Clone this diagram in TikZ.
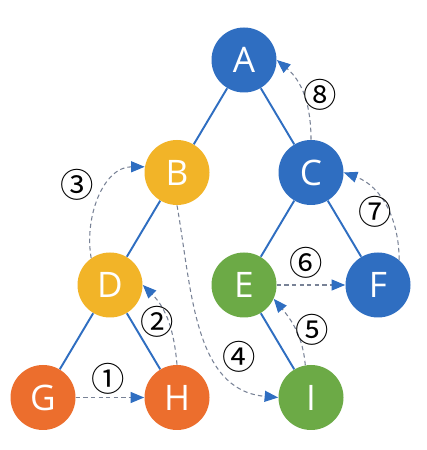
\documentclass[tikz,border=0pt]{standalone}
\usepackage{fontspec}
\setmainfont{Open Sans}
\newfontfamily\circfont{Noto Sans CJK SC}
\usetikzlibrary{
  arrows.meta
}
\definecolor{nodeblue}{RGB}{47,110,193}
\definecolor{nodegold}{RGB}{242,180,40}
\definecolor{nodeorange}{RGB}{236,110,45}
\definecolor{nodegreen}{RGB}{108,170,70}
\definecolor{walkgray}{RGB}{120,130,150}

\begin{document}
\begin{tikzpicture}[
  vertex/.style={circle, minimum size=1.3cm, inner sep=0pt, text=white,
    font=\fontsize{20}{20}\selectfont},
  edge/.style={draw=nodeblue, line width=1.1pt},
  walk/.style={draw=walkgray, dash pattern=on 2.5pt off 1.8pt, line width=.6pt,
    -{Triangle[length=.27cm,width=.22cm,color=nodeblue]}},
  visit no/.style={font=\circfont\fontsize{19}{19}\selectfont, inner sep=0pt},
]
\useasboundingbox (0,0) rectangle (8.54,9);
\fill[white] (0,0) rectangle (8.54,9);
% the tree
\node[vertex, fill=nodeblue]   (A) at (4.88,7.8)  {A};
\node[vertex, fill=nodegold]   (B) at (3.54,5.55) {B};
\node[vertex, fill=nodeblue]   (C) at (6.22,5.55) {C};
\node[vertex, fill=nodegold]   (D) at (2.2,3.3)   {D};
\node[vertex, fill=nodegreen]  (E) at (4.88,3.3)  {E};
\node[vertex, fill=nodeblue]   (F) at (7.56,3.3)  {F};
\node[vertex, fill=nodeorange] (G) at (0.86,1.05) {G};
\node[vertex, fill=nodeorange] (H) at (3.54,1.05) {H};
\node[vertex, fill=nodegreen]  (I) at (6.22,1.05) {I};
\draw[edge] (A) -- (B);
\draw[edge] (A) -- (C);
\draw[edge] (B) -- (D);
\draw[edge] (C) -- (E);
\draw[edge] (C) -- (F);
\draw[edge] (D) -- (G);
\draw[edge] (D) -- (H);
\draw[edge] (E) -- (I);
% the walk
\draw[walk] (G) -- (H);
\draw[walk] (H.north) to[out=95,in=-45] (D.east);
\draw[walk] (D.125) to[out=100,in=180] (B.170);
\draw[walk] (B.south) to[out=-80,in=175] (I.west);
\draw[walk] (I.100) to[out=95,in=-50] (E.-25);
\draw[walk] (E.east) -- (F.west);
\draw[walk] (F.50) to[out=90,in=-20] (C.east);
\draw[walk] (C.north) to[out=90,in=-40] (A.east);
\node[visit no] (n1) at (2.16,1.42) {①};
\node[visit no] (n2) at (3.14,2.56) {②};
\node[visit no] (n3) at (1.54,5.30) {③};
\node[visit no] (n4) at (4.78,1.86) {④};
\node[visit no] (n5) at (6.24,2.40) {⑤};
\node[visit no] (n6) at (6.12,3.74) {⑥};
\node[visit no] (n7) at (7.50,4.76) {⑦};
\node[visit no] (n8) at (6.40,7.10) {⑧};
\end{tikzpicture}
\end{document}
